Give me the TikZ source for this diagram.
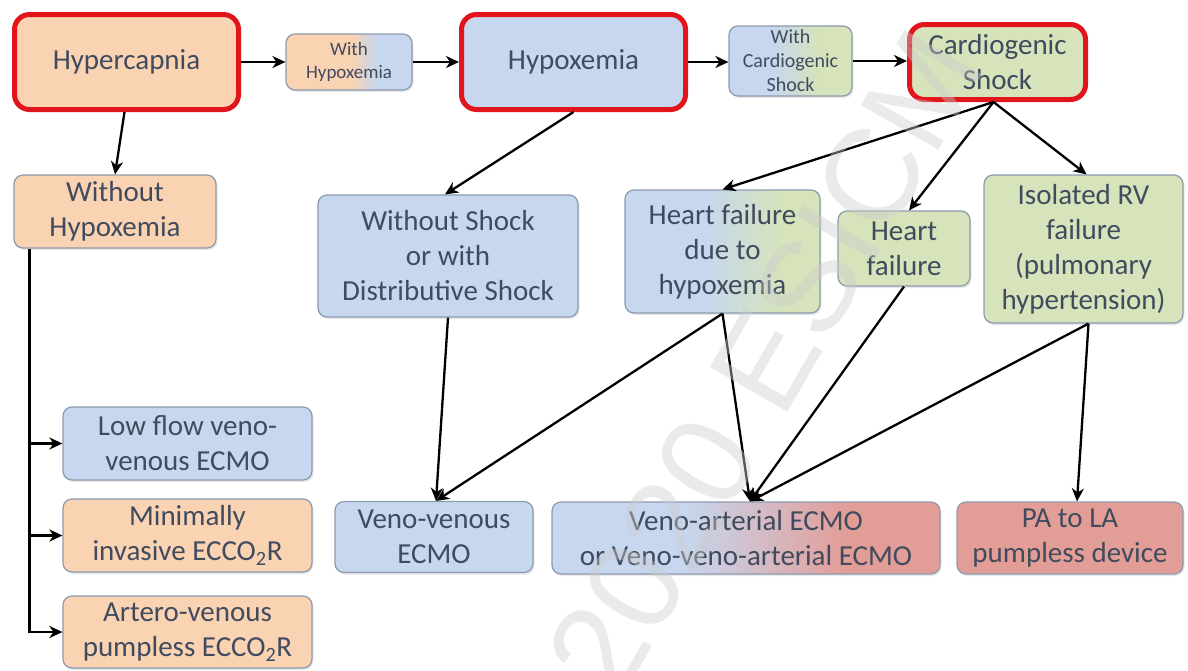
\documentclass[tikz,border=0pt]{standalone}
\usepackage{fontspec}
\setmainfont{Carlito}
\newfontfamily\wmfont{Liberation Sans}
\usetikzlibrary{arrows.meta,shadows,calc}

\definecolor{peach}{HTML}{FAD3B3}
\definecolor{bluef}{HTML}{C6D7EF}
\definecolor{greenf}{HTML}{D6E3BB}
\definecolor{redf}{HTML}{E39D97}
\definecolor{edgec}{HTML}{8C9AAE}
\definecolor{keyred}{HTML}{E2141C}
\definecolor{txt}{HTML}{414B5E}

% two-colour fills with a flat part on each side
\pgfdeclarehorizontalshading{peachblue}{100bp}{color(0bp)=(peach); color(51bp)=(peach); color(61bp)=(bluef); color(100bp)=(bluef)}
\pgfdeclarehorizontalshading{bluegreenA}{100bp}{color(0bp)=(bluef); color(43bp)=(bluef); color(61bp)=(greenf); color(100bp)=(greenf)}
\pgfdeclarehorizontalshading{bluegreenB}{100bp}{color(0bp)=(bluef); color(45bp)=(bluef); color(65bp)=(greenf); color(100bp)=(greenf)}
\pgfdeclarehorizontalshading{bluered}{100bp}{color(0bp)=(bluef); color(42bp)=(bluef); color(63bp)=(redf); color(100bp)=(redf)}

\tikzset{
  box/.style={draw=edgec, line width=1.2pt, rounded corners=9pt, align=center,
    text=txt, inner sep=0pt, font=\fontsize{29}{35}\selectfont,
    drop shadow={shadow xshift=1.5pt, shadow yshift=-2pt, opacity=0.18}},
  keybox/.style={box, draw=keyred, line width=5pt, rounded corners=15pt},
  smalltext/.style={font=\fontsize{19}{23}\selectfont},
  midtext/.style={font=\fontsize{20}{24}\selectfont},
  arr/.style={-{Stealth[length=13pt,width=12pt,inset=4pt]}, line width=2.3pt, black},
}

\begin{document}
\begin{tikzpicture}[x=1pt,y=-1pt]
\useasboundingbox (0,0) rectangle (1188,670);

% top row
\node[keybox, fill=peach, minimum width=224, minimum height=95] (hyper) at (126.5,62) {Hypercapnia};
\node[box, smalltext, shade, shading=peachblue, minimum width=126, minimum height=56] (withhyp) at (349,62) {With\\Hypoxemia};
\node[keybox, fill=bluef, minimum width=224, minimum height=95] (hypox) at (573.5,62) {Hypoxemia};
\node[box, midtext, shade, shading=bluegreenA, minimum width=123, minimum height=70] (withcs) at (790.5,61) {With\\Cardiogenic\\Shock};
\node[keybox, fill=greenf, minimum width=176, minimum height=75] (cshock) at (997.5,62) {Cardiogenic\\Shock};

% second row
\node[box, fill=peach, minimum width=202, minimum height=73] (nohyp) at (115,211.5) {Without\\Hypoxemia};
\node[box, fill=bluef, minimum width=260, minimum height=122] (noshock) at (448,256) {Without Shock\\or with\\Distributive Shock};
\node[box, shade, shading=bluegreenB, minimum width=195, minimum height=123] (hfhyp) at (722.5,251.5) {Heart failure\\due to\\hypoxemia};
\node[box, fill=greenf, minimum width=132, minimum height=75] (hf) at (904,248.5) {Heart\\failure};
\node[box, fill=greenf, minimum width=199, minimum height=148] (rv) at (1083.5,249) {Isolated RV\\failure\\(pulmonary\\hypertension)};

% left column of devices
\node[box, fill=bluef, minimum width=249, minimum height=73] (lowflow) at (187.5,443.5) {Low flow veno-\\venous ECMO};
\node[box, fill=peach, minimum width=249, minimum height=73] (mini) at (187.5,535.5) {Minimally\\invasive ECCO\textsubscript{2}R};
\node[box, fill=peach, minimum width=249, minimum height=72] (artero) at (187.5,632) {Artero-venous\\pumpless ECCO\textsubscript{2}R};

% bottom row of devices
\node[box, fill=bluef, minimum width=198, minimum height=71] (vv) at (434,537) {Veno-venous\\ECMO};
\node[box, shade, shading=bluered, minimum width=388, minimum height=72] (va) at (746,538) {Veno-arterial ECMO\\or Veno-veno-arterial ECMO};
\node[box, fill=redf, minimum width=226, minimum height=72] (pa) at (1070,538) {PA to LA\\pumpless device};

% connectors along the top
\draw[arr] (hyper) -- (withhyp);
\draw[arr] (withhyp) -- (hypox);
\draw[arr] (hypox.east) -- (hypox.east -| withcs.west);
\draw[arr] (withcs.east) -- (withcs.east -| cshock.west);

% hypercapnia branch
\draw[arr] ([xshift=-2pt]hyper.south) -- (nohyp.north);
\coordinate (spine) at ([xshift=16pt]nohyp.south west);
\draw[arr] (spine) |- (artero.west);
\draw[arr] (spine |- lowflow.west) -- (lowflow.west);
\draw[arr] (spine |- mini.west) -- (mini.west);

% hypoxemia and cardiogenic shock branches
\draw[arr] (hypox.south) -- ([xshift=-3pt]noshock.north);
\draw[arr] ([xshift=-4pt]cshock.south) -- (hfhyp.north);
\draw[arr] ([xshift=-4pt]cshock.south) -- ([xshift=5pt]hf.north);
\draw[arr] ([xshift=-4pt]cshock.south) -- ([xshift=3pt]rv.north);

% towards the devices
\draw[arr] (noshock.south) -- ([xshift=2pt]vv.north);
\draw[arr] (hfhyp.south) -- ([xshift=2pt]vv.north);
\draw[arr] (hfhyp.south) -- ([xshift=4pt]va.north);
\draw[arr] (hf.south) -- ([xshift=4pt]va.north);
\draw[arr] ([xshift=5pt]rv.south) -- ([xshift=4pt]va.north);
\draw[arr] ([xshift=5pt]rv.south) -- ([xshift=7pt]pa.north);

% faint diagonal watermark
\node[rotate=60, text=gray!40, text opacity=0.42, font=\wmfont\fontsize{130}{130}\selectfont] (wm) at (765,362) {2020 ESICM};
\end{tikzpicture}
\end{document}
